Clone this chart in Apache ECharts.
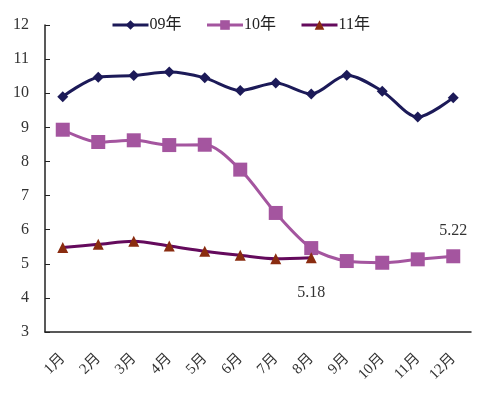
<!DOCTYPE html>
<html><head><meta charset="utf-8">
<script src="https://cdn.jsdelivr.net/npm/echarts@6/dist/echarts.min.js"></script>
<style>html,body{margin:0;padding:0;background:#fff}#c{width:490px;height:395px}</style>
</head><body><div id="c"></div>
<script>
var months = ['1月','2月','3月','4月','5月','6月','7月','8月','9月','10月','11月','12月'];
var yTicks = [3,4,5,6,7,8,9,10,11,12];
var s09 = [9.90, 10.47, 10.52, 10.62, 10.45, 10.08, 10.30, 9.98, 10.53, 10.06, 9.30, 9.87];
var s10 = [8.93, 8.57, 8.62, 8.48, 8.49, 7.76, 6.49, 5.46, 5.08, 5.03, 5.13, 5.22];
var s11 = [5.48, 5.57, 5.66, 5.52, 5.37, 5.25, 5.15, 5.18];
var names = ['09年','10年','11年'];
var font = '"Liberation Serif", "Noto Sans CJK SC", serif';
var chart = echarts.init(document.getElementById('c'));
chart.setOption({
  animation:false,
  textStyle:{fontFamily:font},
  legend:{top:12,left:106,itemWidth:36,itemHeight:12,itemGap:24,
    lineStyle:{width:3},
    textStyle:{fontSize:16,color:'#222',fontFamily:font,padding:[0,0,0,-4]},
    data:names},
  grid:{left:45,right:19,top:25,bottom:63},
  xAxis:{type:'category',data:months,boundaryGap:true,
    axisLine:{lineStyle:{color:'#222',width:1.5}},
    axisTick:{inside:true,length:5,lineStyle:{color:'#222'}},
    axisLabel:{rotate:45,fontSize:15,color:'#333',margin:24,fontFamily:font}},
  yAxis:{type:'value',min:yTicks[0],max:yTicks[yTicks.length-1],interval:1,
    axisLine:{show:true,lineStyle:{color:'#222',width:1.5}},
    axisTick:{show:true,inside:true,length:5,lineStyle:{color:'#222'}},
    splitLine:{show:false},
    axisLabel:{fontSize:16,color:'#333',margin:16,fontFamily:font}},
  series:[
    {name:names[0],type:'line',data:s09,smooth:0.3,symbol:'diamond',symbolSize:11,
      lineStyle:{color:'#1c1a58',width:3},itemStyle:{color:'#1c1a58'}},
    {name:names[1],type:'line',data:s10,smooth:0.3,symbol:'rect',symbolSize:14,
      lineStyle:{color:'#a4559f',width:3},itemStyle:{color:'#a4559f'},
      label:{show:true,position:'top',distance:10,fontSize:16,color:'#333',fontFamily:font,
        formatter:function(p){return p.dataIndex===11?p.value.toFixed(2):'';}}},
    {name:names[2],type:'line',data:s11,smooth:0.3,symbol:'triangle',symbolSize:11,
      lineStyle:{color:'#640a5c',width:3},itemStyle:{color:'#8a2c10'},
      label:{show:true,position:'bottom',distance:22,fontSize:16,color:'#333',fontFamily:font,
        formatter:function(p){return p.dataIndex===7?p.value.toFixed(2):'';}}}
  ]
});
</script></body></html>
